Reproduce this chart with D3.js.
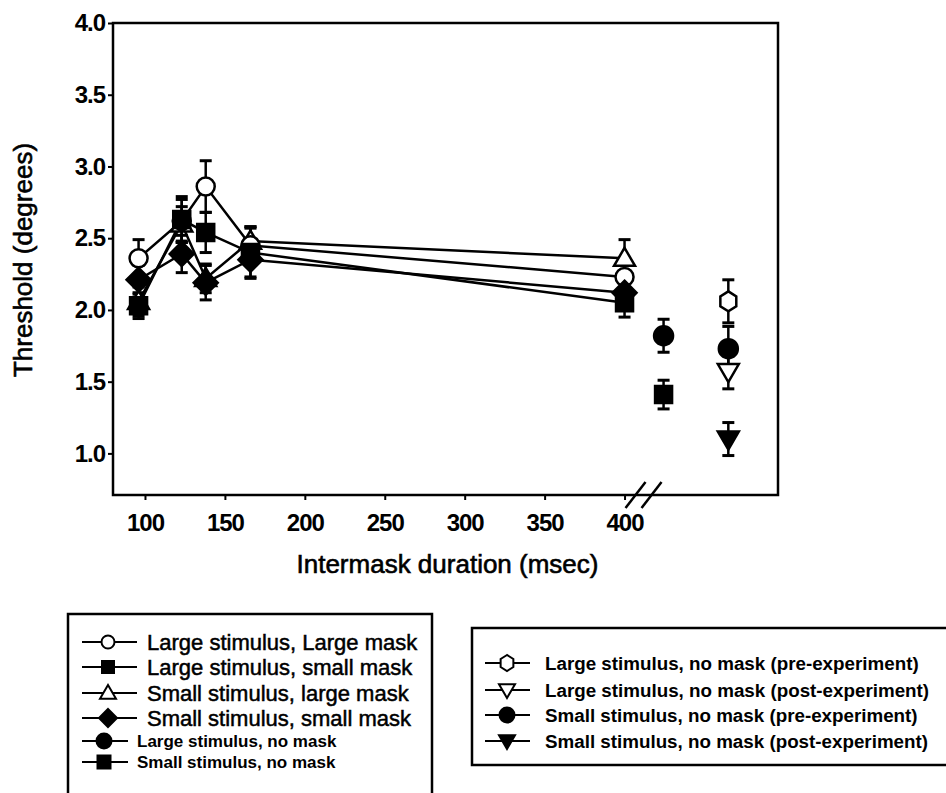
<!DOCTYPE html>
<html>
<head>
    <meta http-equiv="Content-Type" content="text/html; charset=UTF-8">
    <style>
        body { margin: 0; background: #fff; }
        svg { display: block; }
        text { font-family: "Liberation Sans", Arial, sans-serif; fill: #000; }
    </style>
</head>
<body>
    <svg width="946" height="793"></svg>
    <script src="https://cdn.jsdelivr.net/npm/d3@7"></script>
    <script>

        // intermask durations (msec) for the masked conditions
        let durations = [96, 123, 138, 166, 400];

        let largeLargeMask = [2.36, 2.62, 2.86, 2.45, 2.23];
        let largeLargeErr = [0.13, 0.15, 0.18, 0.12, 0.10];
        let largeSmallMask = [2.03, 2.63, 2.54, 2.40, 2.05];
        let largeSmallErr = [0.09, 0.16, 0.14, 0.18, 0.10];
        let smallLargeMask = [2.06, 2.60, 2.22, 2.48, 2.36];
        let smallLargeErr = [0.10, 0.12, 0.10, 0.10, 0.13];
        let smallSmallMask = [2.21, 2.39, 2.19, 2.35, 2.12];
        let smallSmallErr = [0.10, 0.13, 0.12, 0.12, 0.10];

        // unmasked conditions, shown past the axis break
        let breakCols = ["no mask", "baseline"];
        let noMaskLabels = ["Large stimulus, no mask", "Small stimulus, no mask",
            "Large stimulus, no mask (pre-experiment)", "Large stimulus, no mask (post-experiment)",
            "Small stimulus, no mask (pre-experiment)", "Small stimulus, no mask (post-experiment)"];
        let noMaskCol = ["no mask", "no mask", "baseline", "baseline", "baseline", "baseline"];
        let noMaskValues = [1.82, 1.41, 2.06, 1.57, 1.73, 1.10];
        let noMaskErr = [0.115, 0.10, 0.15, 0.12, 0.155, 0.115];
        let noMaskShapes = ["circle", "square", "hexagon", "triDown", "circle", "triDown"];
        let noMaskFilled = [true, true, false, false, true, true];

        let xTicks = [100, 150, 200, 250, 300, 350, 400];
        let yTicks = [1.0, 1.5, 2.0, 2.5, 3.0, 3.5, 4.0];

        let maskedSeries = [
            { name: "Large stimulus, Large mask", values: largeLargeMask, err: largeLargeErr, shape: "circle", filled: false },
            { name: "Large stimulus, small mask", values: largeSmallMask, err: largeSmallErr, shape: "square", filled: true },
            { name: "Small stimulus, large mask", values: smallLargeMask, err: smallLargeErr, shape: "triUp", filled: false },
            { name: "Small stimulus, small mask", values: smallSmallMask, err: smallSmallErr, shape: "diamond", filled: true }
        ];
        // draw order of the markers: open ones below, filled ones on top
        let drawOrder = [2, 0, 3, 1];

        let width = 946, height = 793;
        let svg = d3.select("svg");

        let plotLeft = 113, plotRight = 778, plotTop = 23, plotBottom = 495;

        let x = d3.scaleLinear().domain([80, 496]).range([plotLeft, plotRight]);
        let y = d3.scaleLinear().domain([0.71, 4.0]).range([plotBottom, plotTop]);
        let xBreak = d3.scalePoint().domain(breakCols)
            .range([x(400), plotRight]).padding(0.685).align(0.44);

        function shapePath(type, r) {
            if (type === "circle") {
                return "M" + (-r) + ",0A" + r + "," + r + " 0 1,0 " + r + ",0A" + r + "," + r + " 0 1,0 " + (-r) + ",0Z";
            }
            if (type === "square") {
                return "M" + (-r) + "," + (-r) + "H" + r + "V" + r + "H" + (-r) + "Z";
            }
            if (type === "diamond") {
                return "M0," + (-r) + "L" + r + ",0L0," + r + "L" + (-r) + ",0Z";
            }
            if (type === "triUp") {
                return "M0," + (-r) + "L" + r + "," + (r * 0.72) + "L" + (-r) + "," + (r * 0.72) + "Z";
            }
            if (type === "triDown") {
                return "M0," + r + "L" + r + "," + (-r * 0.72) + "L" + (-r) + "," + (-r * 0.72) + "Z";
            }
            // hexagon, pointy top
            let pts = d3.range(6).map(i => {
                let a = Math.PI / 2 + i * Math.PI / 3;
                return [r * 0.92 * Math.cos(a), -r * Math.sin(a)];
            });
            return "M" + pts.map(p => p.join(",")).join("L") + "Z";
        }

        let markerSize = { circle: 9, square: 8.5, diamond: 12, triUp: 10.5, triDown: 10.5, hexagon: 10 };

        // frame
        svg.append("rect")
            .attr("x", plotLeft).attr("y", plotTop)
            .attr("width", plotRight - plotLeft).attr("height", plotBottom - plotTop)
            .attr("fill", "none").attr("stroke", "#000").attr("stroke-width", 2.5);

        // axes
        let xAxis = svg.append("g")
            .attr("transform", "translate(0," + plotBottom + ")")
            .call(d3.axisBottom(x).tickValues(xTicks).tickSize(5).tickPadding(14).tickFormat(d3.format("d")));
        let yAxis = svg.append("g")
            .attr("transform", "translate(" + plotLeft + ",0)")
            .call(d3.axisLeft(y).tickValues(yTicks).tickSize(5).tickPadding(3).tickFormat(d3.format(".1f")));

        [xAxis, yAxis].forEach(g => {
            g.select(".domain").remove();
            g.selectAll(".tick line").attr("stroke", "#000").attr("stroke-width", 2);
            g.selectAll(".tick text")
                .style("font-size", "24px").style("font-weight", "bold")
                .style("letter-spacing", "-1px")
                .style("font-family", "'Liberation Sans', Arial, sans-serif");
        });

        // axis break marks
        let bx = x(400);
        [0, 16].forEach(o => {
            svg.append("line")
                .attr("x1", bx + 1 + o).attr("y1", plotBottom + 13)
                .attr("x2", bx + 21 + o).attr("y2", plotBottom - 13)
                .attr("stroke", "#000").attr("stroke-width", 2.5);
        });

        svg.append("text")
            .attr("x", (plotLeft + plotRight) / 2 + 2).attr("y", 573)
            .attr("text-anchor", "middle")
            .style("font-size", "26px")
            .attr("stroke", "#000").attr("stroke-width", 0.6)
            .text("Intermask duration (msec)");

        svg.append("text")
            .attr("transform", "translate(32," + ((plotTop + plotBottom) / 2 + 1) + ") rotate(-90)")
            .attr("text-anchor", "middle")
            .style("font-size", "26px")
            .attr("stroke", "#000").attr("stroke-width", 0.6)
            .text("Threshold (degrees)");

        // series lines
        let line = d3.line().x((d, i) => x(durations[i])).y(d => y(d));
        svg.append("g").selectAll("path")
            .data(maskedSeries)
            .join("path")
            .attr("d", s => line(s.values))
            .attr("fill", "none").attr("stroke", "#000").attr("stroke-width", 2.5);

        // error bars
        let bars = [];
        maskedSeries.forEach(s => {
            s.values.forEach((v, i) => bars.push({ cx: x(durations[i]), v: v, e: s.err[i] }));
        });
        noMaskValues.forEach((v, i) => bars.push({ cx: xBreak(noMaskCol[i]), v: v, e: noMaskErr[i] }));

        let eg = svg.append("g").attr("stroke", "#000").attr("stroke-width", 2.5);
        bars.forEach(b => {
            eg.append("line").attr("x1", b.cx).attr("x2", b.cx)
                .attr("y1", y(b.v - b.e)).attr("y2", y(b.v + b.e));
            [b.v - b.e, b.v + b.e].forEach(c => {
                eg.append("line").attr("x1", b.cx - 6).attr("x2", b.cx + 6)
                    .attr("y1", y(c)).attr("y2", y(c)).attr("stroke-width", 3);
            });
        });

        // markers
        let mg = svg.append("g");
        drawOrder.map(k => maskedSeries[k]).forEach(s => {
            s.values.forEach((v, i) => {
                mg.append("path")
                    .attr("transform", "translate(" + x(durations[i]) + "," + y(v) + ")")
                    .attr("d", shapePath(s.shape, markerSize[s.shape]))
                    .attr("fill", s.filled ? "#000" : "#fff")
                    .attr("stroke", "#000").attr("stroke-width", 2.5);
            });
        });
        noMaskValues.forEach((v, i) => {
            let sh = noMaskShapes[i];
            mg.append("path")
                .attr("transform", "translate(" + xBreak(noMaskCol[i]) + "," + y(v) + ")")
                .attr("d", shapePath(sh, sh === "circle" ? 9.5 : markerSize[sh]))
                .attr("fill", noMaskFilled[i] ? "#000" : "#fff")
                .attr("stroke", "#000").attr("stroke-width", 2.5);
        });

        // legend, left box
        let leg1 = svg.append("g");
        leg1.append("rect")
            .attr("x", 68).attr("y", 614).attr("width", 364).attr("height", 200)
            .attr("fill", "none").attr("stroke", "#000").attr("stroke-width", 2.5);

        let leftItems = maskedSeries.map(s => ({ name: s.name, shape: s.shape, filled: s.filled, big: true }))
            .concat([0, 1].map(i => ({ name: noMaskLabels[i], shape: noMaskShapes[i], filled: true, big: false })));
        let leftRows = [642, 667, 693, 718, 741, 762];
        let legSize = { circle: 6.5, square: 6, diamond: 9, triUp: 8, triDown: 8, hexagon: 7.5 };

        leftItems.forEach((it, i) => {
            let g = leg1.append("g").attr("transform", "translate(0," + leftRows[i] + ")");
            let x2 = it.big ? 137 : 128, mx = it.big ? 108 : 104;
            g.append("line").attr("x1", 82).attr("x2", x2).attr("y1", 0).attr("y2", 0)
                .attr("stroke", "#000").attr("stroke-width", 2);
            g.append("path")
                .attr("transform", "translate(" + mx + ",0)")
                .attr("d", shapePath(it.shape, it.big ? legSize[it.shape] : (it.shape === "circle" ? 7.5 : 6.5)))
                .attr("fill", it.filled ? "#000" : "#fff")
                .attr("stroke", "#000").attr("stroke-width", 2);
            let t = g.append("text")
                .attr("x", it.big ? 147 : 137).attr("dy", "0.36em")
                .text(it.name);
            if (it.big) {
                t.style("font-size", "22px").attr("stroke", "#000").attr("stroke-width", 0.5);
            } else {
                t.style("font-size", "17px").style("font-weight", "bold");
            }
        });

        // legend, right box
        let leg2 = svg.append("g");
        leg2.append("rect")
            .attr("x", 472).attr("y", 628).attr("width", 500).attr("height", 137)
            .attr("fill", "none").attr("stroke", "#000").attr("stroke-width", 2.5);
        let rightRows = [663, 690, 715, 741];
        [2, 3, 4, 5].forEach((k, i) => {
            let g = leg2.append("g").attr("transform", "translate(0," + rightRows[i] + ")");
            g.append("line").attr("x1", 485).attr("x2", 530).attr("y1", 0).attr("y2", 0)
                .attr("stroke", "#000").attr("stroke-width", 2);
            g.append("path")
                .attr("transform", "translate(507,0)")
                .attr("d", shapePath(noMaskShapes[k], noMaskShapes[k] === "circle" ? 7.5 : 8))
                .attr("fill", noMaskFilled[k] ? "#000" : "#fff")
                .attr("stroke", "#000").attr("stroke-width", 2);
            g.append("text")
                .attr("x", 545).attr("dy", "0.36em")
                .style("font-size", "18.8px").style("font-weight", "bold")
                .text(noMaskLabels[k]);
        });

    </script>
</body>
</html>
